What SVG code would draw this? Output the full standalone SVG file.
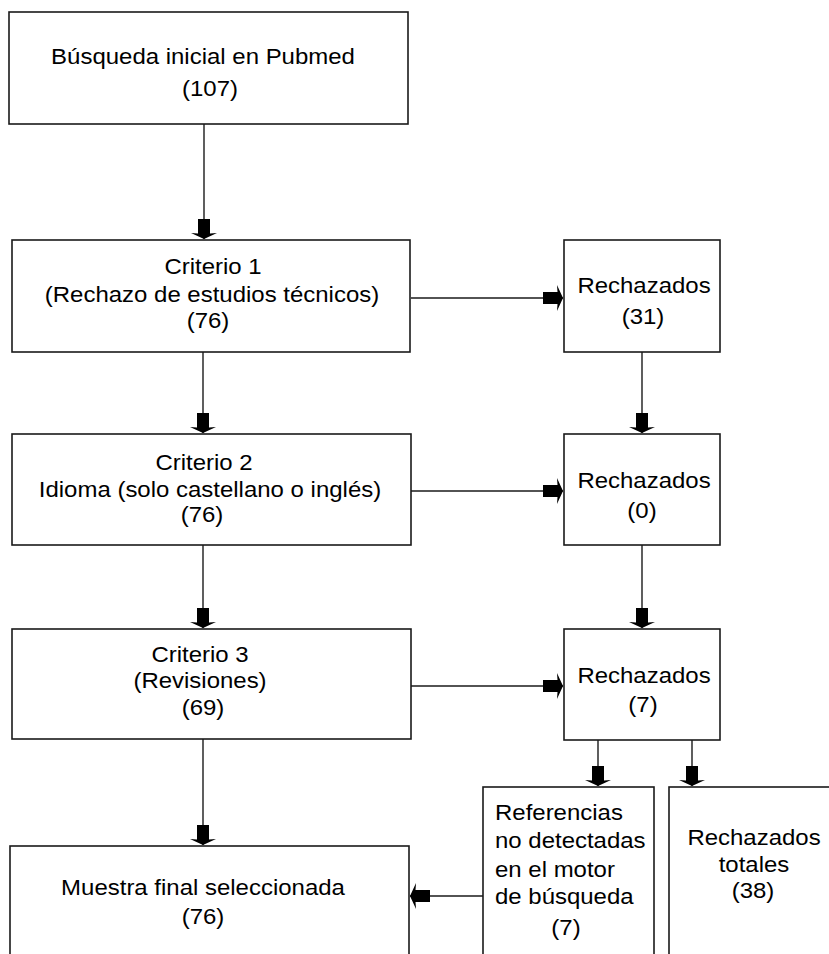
<svg xmlns="http://www.w3.org/2000/svg" width="829" height="954" viewBox="0 0 829 954">
<style>
  .box { fill: #fff; stroke: #1a1a1a; stroke-width: 1.6; }
  .ln { fill: none; stroke: #1a1a1a; stroke-width: 1.4; marker-end: url(#ah); }
  text { font-family: "Liberation Sans", Arial, sans-serif; font-size: 22px; fill: #000; }
  .c { text-anchor: middle; }
  .l { text-anchor: start; }
</style>
<defs>
  <marker id="ah" markerUnits="userSpaceOnUse" orient="auto" viewBox="-21 -14 22 28" markerWidth="22" markerHeight="28" refX="0" refY="0">
    <path d="M0,0 L-6,-13 L-5.5,-6 L-20,-6 L-20,6 L-5.5,6 L-6,13 Z" fill="#000"/>
  </marker>
</defs>
<rect width="829" height="954" fill="#fff"/>

<g id="connectors">
  <line class="ln" x1="204" y1="124" x2="204" y2="239"/>
  <line class="ln" x1="203" y1="352" x2="203" y2="433"/>
  <line class="ln" x1="203" y1="545" x2="203" y2="628"/>
  <line class="ln" x1="203" y1="739" x2="203" y2="845"/>
  <line class="ln" x1="411" y1="298" x2="563" y2="298"/>
  <line class="ln" x1="411" y1="491" x2="563" y2="491"/>
  <line class="ln" x1="411" y1="686" x2="563" y2="686"/>
  <line class="ln" x1="642" y1="352" x2="642" y2="433"/>
  <line class="ln" x1="642" y1="545" x2="642" y2="628"/>
  <line class="ln" x1="598" y1="740" x2="598" y2="786"/>
  <line class="ln" x1="692" y1="740" x2="692" y2="786"/>
  <line class="ln" x1="483" y1="896" x2="410" y2="896"/>
</g>

<g id="n_busqueda">
  <rect class="box" x="9" y="12" width="399" height="112"/>
  <text class="c" transform="translate(203,64) scale(1.09,1)">Búsqueda inicial en Pubmed</text>
  <text class="c" transform="translate(210,96) scale(1.09,1)">(107)</text>
</g>

<g id="n_criterio1">
  <rect class="box" x="12" y="240" width="398" height="112"/>
  <text class="c" transform="translate(213,274) scale(1.09,1)">Criterio 1</text>
  <text class="c" transform="translate(212,302) scale(1.09,1)">(Rechazo de estudios técnicos)</text>
  <text class="c" transform="translate(208,328) scale(1.09,1)">(76)</text>
</g>

<g id="n_rech1">
  <rect class="box" x="564" y="240" width="156" height="112"/>
  <text class="c" transform="translate(644,293) scale(1.09,1)">Rechazados</text>
  <text class="c" transform="translate(643,324) scale(1.09,1)">(31)</text>
</g>

<g id="n_criterio2">
  <rect class="box" x="12" y="434" width="399" height="111"/>
  <text class="c" transform="translate(204,470) scale(1.09,1)">Criterio 2</text>
  <text class="c" transform="translate(210,497) scale(1.09,1)">Idioma (solo castellano o inglés)</text>
  <text class="c" transform="translate(202,522) scale(1.09,1)">(76)</text>
</g>

<g id="n_rech2">
  <rect class="box" x="564" y="434" width="156" height="111"/>
  <text class="c" transform="translate(644,488) scale(1.09,1)">Rechazados</text>
  <text class="c" transform="translate(642,518) scale(1.09,1)">(0)</text>
</g>

<g id="n_criterio3">
  <rect class="box" x="12" y="629" width="399" height="110"/>
  <text class="c" transform="translate(200,662) scale(1.09,1)">Criterio 3</text>
  <text class="c" transform="translate(200,688) scale(1.09,1)">(Revisiones)</text>
  <text class="c" transform="translate(203,715) scale(1.09,1)">(69)</text>
</g>

<g id="n_rech3">
  <rect class="box" x="564" y="629" width="156" height="111"/>
  <text class="c" transform="translate(644,683) scale(1.09,1)">Rechazados</text>
  <text class="c" transform="translate(643,712) scale(1.09,1)">(7)</text>
</g>

<g id="n_referencias">
  <rect class="box" x="483" y="787" width="171" height="180"/>
  <text class="l" transform="translate(495,820) scale(1.09,1)">Referencias</text>
  <text class="l" transform="translate(495,848) scale(1.09,1)">no detectadas</text>
  <text class="l" transform="translate(495,877) scale(1.09,1)">en el motor</text>
  <text class="l" transform="translate(495,904) scale(1.09,1)">de búsqueda</text>
  <text class="c" transform="translate(566,935) scale(1.09,1)">(7)</text>
</g>

<g id="n_totales">
  <rect class="box" x="669" y="787" width="180" height="180"/>
  <text class="c" transform="translate(754,845) scale(1.09,1)">Rechazados</text>
  <text class="c" transform="translate(754,872) scale(1.09,1)">totales</text>
  <text class="c" transform="translate(753,898) scale(1.09,1)">(38)</text>
</g>

<g id="n_muestra">
  <rect class="box" x="10" y="846" width="399" height="120"/>
  <text class="c" transform="translate(203,895) scale(1.09,1)">Muestra final seleccionada</text>
  <text class="c" transform="translate(203,924) scale(1.09,1)">(76)</text>
</g>
</svg>
